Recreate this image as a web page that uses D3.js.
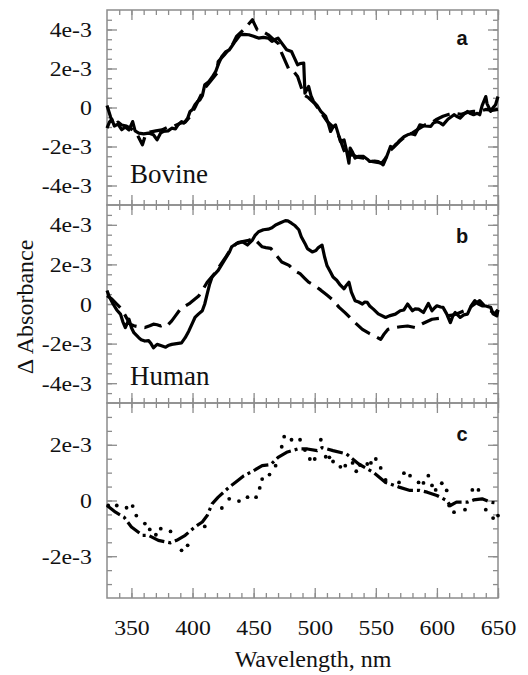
<!DOCTYPE html>
<html><head><meta charset="utf-8">
<script src="https://cdn.jsdelivr.net/npm/d3@7"></script>
<style>
html,body{margin:0;padding:0;background:#fff;}
svg{display:block;}
</style></head><body>
<svg id="chart" width="528" height="675"></svg>
<script>
// Difference spectra: wavelength (nm) and ΔA in units of 1e-3

// Panel a – bovine
const bovineSolidNm = [330,332,334,336,339,342,345,348,351,353,356,360,364,368,371,374,376,380,383,386,388,391,393,396,398,400,402,404,406,408,410,413,416,419,421,424,427,430,432,435,439,442,446,450,454,458,462,465,468,470,473,477,481,483,486,488,491,492,495,497,499,502,505,509,511,513,515,517,519,521,524,526,528,529,531,533,536,540,543,545,549,552,554,556,559,562,564,566,568,570,573,576,579,582,584,586,590,595,597,600,603,605,609,614,616,619,622,625,627,630,633,635,637,640,641,644,646,648,650];
const bovineSolid   = [-1.06,-0.75,-0.6,-0.95,-0.85,-1.14,-1.0,-1.15,-0.72,-1.2,-1.31,-1.35,-1.31,-1.4,-1.66,-1.3,-1.23,-1.2,-1.06,-1.1,-0.9,-0.72,-0.8,-0.55,-0.2,-0.1,0.14,0.3,0.39,0.6,1.16,1.3,1.55,1.85,2.2,2.62,2.85,2.95,3.13,3.4,3.73,3.75,3.73,3.65,3.56,3.6,3.56,3.39,3.5,3.56,3.3,2.96,2.87,2.6,2.19,2.25,2.28,0.74,1.08,0.6,0.31,0.1,-0.2,-0.46,-0.8,-1.23,-1.0,-0.89,-1.3,-1.74,-1.66,-2.2,-2.85,-2.08,-2.3,-2.59,-2.5,-2.51,-2.65,-2.77,-2.75,-2.77,-2.85,-2.94,-2.5,-2.0,-2.05,-1.91,-1.8,-1.66,-1.5,-1.4,-1.35,-1.4,-1.15,-0.89,-0.95,-0.97,-0.8,-0.72,-0.8,-0.89,-0.6,-0.37,-0.45,-0.54,-0.35,-0.2,-0.3,-0.37,-0.3,-0.37,0.1,0.56,0.2,-0.2,0.0,0.14,0.56];
const bovineDashNm  = [330,333,336,339,342,346,350,354,359,362,366,370,375,380,385,390,394,398,402,405,409,414,420,421,426,432,436,442,449,453,456,462,466,470,473,479,482,486,491,495,500,505,510,515,520,524,527,530,535,540,545,550,555,558,562,566,570,575,580,585,590,595,600,605,610,615,620,625,630,635,640,645,650];
const bovineDash    = [0.1,-0.5,-0.95,-0.75,-0.9,-0.95,-1.1,-1.3,-1.91,-1.3,-1.25,-1.2,-1.15,-1.0,-0.95,-0.8,-0.75,-0.46,0.0,0.39,0.91,1.3,1.76,2.36,2.7,3.13,3.64,4.0,4.5,3.98,3.95,3.73,3.5,3.3,2.79,1.93,1.9,1.59,0.65,0.5,0.2,-0.25,-0.7,-1.0,-1.5,-2.2,-2.6,-2.4,-2.55,-2.6,-2.75,-2.8,-2.85,-2.6,-2.2,-1.95,-1.7,-1.45,-1.3,-1.1,-0.9,-0.8,-0.6,-0.45,-0.35,-0.3,-0.35,-0.25,-0.2,-0.2,-0.1,-0.15,-0.1];

// Panel b – human
const humanSolidNm = [330,332,335,338,341,343,345,348,350,352,356,358,361,364,366,368,371,374,378,380,383,387,391,394,397,400,402,405,408,410,412,414,416,418,421,424,427,430,432,436,441,445,449,451,454,458,462,465,468,472,476,478,481,484,487,489,492,494,498,501,503,506,508,510,513,515,518,521,524,526,528,530,533,536,539,541,543,545,548,552,558,561,566,570,573,576,580,582,585,589,591,593,596,598,600,603,605,608,611,613,615,619,622,625,628,631,634,637,640,644,646,649,650];
const humanSolid   = [0.68,0.35,0.0,-0.3,-0.51,-0.9,-1.19,-0.77,-1.2,-1.45,-1.7,-1.8,-1.87,-1.85,-2.0,-2.21,-2.04,-2.1,-2.18,-2.1,-2.04,-2.0,-1.96,-1.7,-1.36,-0.95,-0.68,-0.5,-0.34,0.0,0.51,1.0,1.36,1.5,1.7,2.0,2.3,2.6,2.89,3.05,3.14,2.98,3.23,3.45,3.65,3.75,3.78,3.85,3.99,4.1,4.21,4.2,4.08,3.95,3.75,3.4,3.06,2.8,2.63,2.7,2.85,2.97,2.4,1.95,1.6,1.36,1.2,0.95,0.77,0.95,1.1,0.6,0.17,0.1,0.0,0.1,0.08,-0.1,-0.26,-0.5,-0.68,-0.6,-0.51,-0.34,-0.3,0.0,-0.34,-0.25,-0.26,-0.43,-0.2,0.03,-0.34,-0.2,-0.09,-0.15,-0.17,-0.5,-0.94,-0.6,-0.43,-0.68,-0.55,-0.51,-0.1,0.17,0.0,-0.09,-0.1,-0.17,-0.5,-0.6,-0.3];
const humanDashNm  = [330,334,338,342,346,349,352,356,361,365,368,371,374,376,379,383,386,390,394,398,402,405,408,412,419,422,427,432,437,441,445,450,457,460,464,468,473,479,483,488,492,495,500,505,510,514,520,525,533,539,545,550,554,557,560,565,570,576,579,582,588,596,603,608,614,618,622,627,631,635,639,644,647,650];
const humanDash    = [0.42,0.25,0.0,-0.26,-0.7,-1.02,-1.1,-1.15,-1.19,-1.1,-1.02,-1.05,-1.11,-1.05,-1.11,-0.85,-0.6,-0.26,-0.1,0.05,0.25,0.4,0.68,1.1,1.61,1.9,2.35,2.85,3.1,3.15,3.2,3.32,2.89,2.85,2.81,2.5,2.12,1.95,1.7,1.53,1.28,1.1,0.93,0.7,0.45,0.25,-0.17,-0.45,-0.94,-1.28,-1.5,-1.65,-1.79,-1.5,-1.28,-1.2,-1.15,-1.11,-1.15,-1.19,-1.0,-0.77,-0.72,-0.6,-0.55,-0.45,-0.35,-0.17,0.0,0.17,-0.1,-0.34,-0.5,-0.3];

// Panel c
const panelCDashDotNm = [330,337,344,350,359,364,372,382,387,394,402,408,412,416,421,430,435,442,450,457,464,470,477,486,494,502,506,515,526,536,548,558,569,578,586,592,600,608,611,616,625,630,637,644,650];
const panelCDashDot   = [-0.18,-0.42,-0.6,-0.95,-1.25,-1.25,-1.43,-1.52,-1.43,-1.25,-0.95,-0.77,-0.54,-0.12,0.12,0.48,0.65,0.89,1.07,1.25,1.29,1.55,1.73,1.85,1.85,1.79,1.9,1.79,1.67,1.31,1.01,0.65,0.48,0.36,0.36,0.3,0.18,0.0,-0.18,-0.06,-0.06,0.02,0.06,-0.06,-0.1];
const panelCDotNm = [331,338,346,351,354,361,365,370,374,382,391,396,410,424,430,438,445,452,455,457,463,468,473,475,481,488,492,496,500,505,509,512,515,521,525,531,534,537,543,546,550,554,558,569,573,578,585,589,593,596,599,604,608,610,614,623,629,634,640,646,650];
const panelCDot   = [-0.18,-0.18,-0.26,-0.2,-0.54,-0.83,-1.04,-1.23,-1.01,-1.11,-1.79,-1.61,-0.93,-0.27,0.06,-0.02,0.12,0.12,0.45,0.77,0.93,1.25,1.93,2.29,2.18,2.18,1.81,1.49,1.49,2.18,1.57,1.55,1.4,1.21,1.25,1.35,1.05,1.27,1.31,1.35,1.49,1.17,0.74,0.65,0.98,0.89,0.65,0.63,0.89,0.54,0.38,0.62,0.36,-0.18,-0.42,-0.33,0.38,0.38,-0.33,-0.63,-0.54];

// Axis ticks
const xMajorTicks = [350,400,450,500,550,600,650];
const xMinorTicks = d3.range(340, 651, 10);
const xTickLabels = ["350","400","450","500","550","600","650"];
const yMajorTicksAB = [-4,-2,0,2,4];
const yTickLabelsAB = ["-4e-3","-2e-3","0","2e-3","4e-3"];
const yMajorTicksC = [-2,0,2];
const yTickLabelsC = ["-2e-3","0","2e-3"];

const svg = d3.select("#chart");
const frameColor = "#8c8c8c";
const serif = "'Liberation Serif','Times New Roman',serif";
const sans = "'Liberation Sans',Arial,sans-serif";

const x = d3.scaleLinear().domain([330, 650]).range([107, 498]);

const panels = [
  {top: 10, bottom: 205, domain: [-5, 5], major: yMajorTicksAB, labels: yTickLabelsAB, letter: "a", letterY: 45, name: "Bovine", nameY: 183,
   series: [{nm: bovineSolidNm, v: bovineSolid, dash: null}, {nm: bovineDashNm, v: bovineDash, dash: "18,8"}]},
  {top: 205, bottom: 403, domain: [-5, 5], major: yMajorTicksAB, labels: yTickLabelsAB, letter: "b", letterY: 243, name: "Human", nameY: 385,
   series: [{nm: humanSolidNm, v: humanSolid, dash: null}, {nm: humanDashNm, v: humanDash, dash: "18,8"}]},
  {top: 403, bottom: 598, domain: [-3.5, 3.5], major: yMajorTicksC, labels: yTickLabelsC, letter: "c", letterY: 441, name: null,
   series: [{nm: panelCDashDotNm, v: panelCDashDot, dash: "16,4,3,4"}], dots: {nm: panelCDotNm, v: panelCDot}}
];

function styleAxis(g) {
  g.select(".domain").remove();
  g.selectAll(".tick line").attr("stroke", frameColor).attr("stroke-width", 1.3);
  g.selectAll(".tick text")
    .attr("font-family", serif).attr("font-size", 22).attr("fill", "#111")
    .attr("transform", "scale(1.08,1)");
}

panels.forEach((p, i) => {
  const y = d3.scaleLinear().domain(p.domain).range([p.bottom, p.top]);
  const g = svg.append("g");
  const yMinor = d3.range(Math.ceil(p.domain[0] * 2) / 2, p.domain[1] + 0.001, 0.5)
    .filter(v => v > p.domain[0] && v < p.domain[1]);
  const isLast = i === panels.length - 1;

  // minor ticks
  g.append("g").attr("transform", `translate(0,${p.bottom})`)
    .call(d3.axisBottom(x).tickValues(xMinorTicks).tickSize(-5).tickFormat("")).call(styleAxis);
  g.append("g").attr("transform", `translate(0,${p.top})`)
    .call(d3.axisTop(x).tickValues(xMinorTicks).tickSize(-5).tickFormat("")).call(styleAxis);
  g.append("g").attr("transform", `translate(${x.range()[0]},0)`)
    .call(d3.axisLeft(y).tickValues(yMinor).tickSize(-5).tickFormat("")).call(styleAxis);
  g.append("g").attr("transform", `translate(${x.range()[1]},0)`)
    .call(d3.axisRight(y).tickValues(yMinor).tickSize(-5).tickFormat("")).call(styleAxis);

  // major ticks
  g.append("g").attr("transform", `translate(0,${p.bottom})`)
    .call(d3.axisBottom(x).tickValues(xMajorTicks).tickSize(-10).tickPadding(21)
      .tickFormat(isLast ? (d, k) => xTickLabels[k] : ""))
    .call(styleAxis);
  g.append("g").attr("transform", `translate(0,${p.top})`)
    .call(d3.axisTop(x).tickValues(xMajorTicks).tickSize(-10).tickFormat("")).call(styleAxis);
  g.append("g").attr("transform", `translate(${x.range()[0]},0)`)
    .call(d3.axisLeft(y).tickValues(p.major).tickSize(-10).tickPadding(14)
      .tickFormat((d, k) => p.labels[k]))
    .call(styleAxis);
  g.append("g").attr("transform", `translate(${x.range()[1]},0)`)
    .call(d3.axisRight(y).tickValues(p.major).tickSize(-10).tickFormat("")).call(styleAxis);

  // frame
  g.append("rect")
    .attr("x", x.range()[0]).attr("y", p.top)
    .attr("width", x.range()[1] - x.range()[0]).attr("height", p.bottom - p.top)
    .attr("fill", "none").attr("stroke", frameColor).attr("stroke-width", 1.5);

  // spectra
  const line = d3.line().x(d => x(d[0])).y(d => y(d[1]));
  p.series.forEach(s => {
    g.append("path")
      .datum(d3.zip(s.nm, s.v))
      .attr("d", line)
      .attr("fill", "none").attr("stroke", "#000").attr("stroke-width", 3.2)
      .attr("stroke-linejoin", "round")
      .attr("stroke-dasharray", s.dash);
  });
  if (p.dots) {
    g.selectAll("circle.dot").data(d3.zip(p.dots.nm, p.dots.v)).join("circle")
      .attr("class", "dot")
      .attr("cx", d => x(d[0])).attr("cy", d => y(d[1])).attr("r", 1.9).attr("fill", "#000");
  }

  // panel letter
  g.append("text").attr("x", 462).attr("y", p.letterY).attr("text-anchor", "middle")
    .attr("font-family", sans).attr("font-weight", "bold").attr("font-size", 20).attr("fill", "#111")
    .text(p.letter);
  if (p.name) {
    g.append("text").attr("x", 130).attr("y", p.nameY)
      .attr("font-family", serif).attr("font-size", 27).attr("fill", "#111")
      .text(p.name);
  }
});

// axis titles
svg.append("text").attr("x", 313).attr("y", 667).attr("text-anchor", "middle")
  .attr("font-family", serif).attr("font-size", 24).attr("fill", "#111")
  .text("Wavelength, nm");
svg.append("text").attr("transform", "translate(33,307) rotate(-90)").attr("text-anchor", "middle")
  .attr("font-family", serif).attr("font-size", 24).attr("fill", "#111")
  .text("Δ Absorbance");
</script>
</body></html>
